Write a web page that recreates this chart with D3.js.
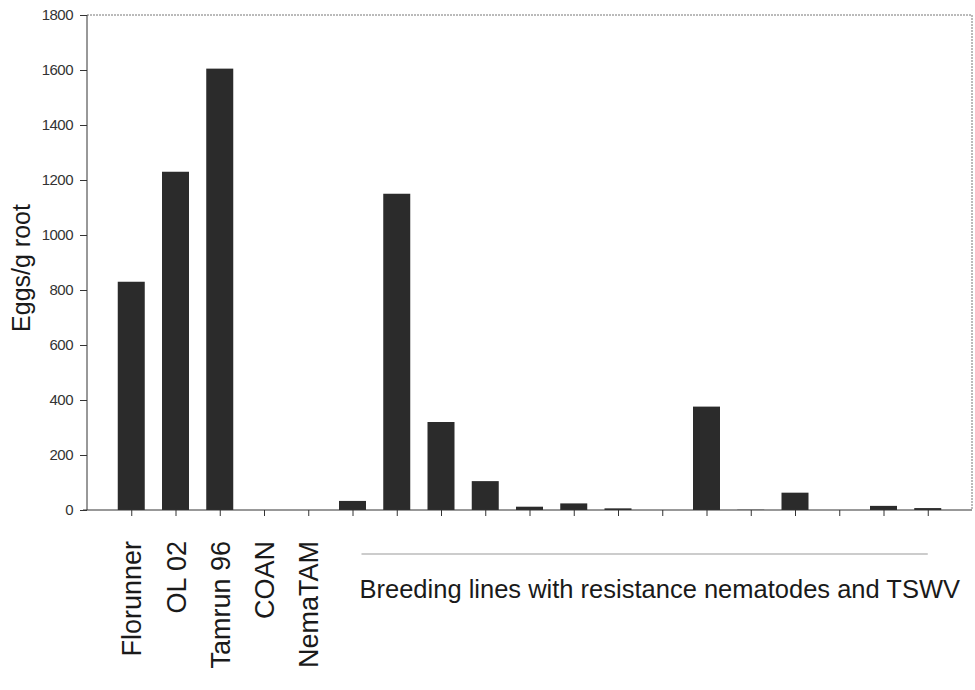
<!DOCTYPE html>
<html>
<head>
<meta charset="utf-8">
<script src="https://cdn.jsdelivr.net/npm/d3@7"></script>
<style>
  body { margin: 0; background: #fff; }
  svg { display: block; font-family: "Liberation Sans", Arial, sans-serif; }
</style>
</head>
<body>
<svg width="975" height="690"></svg>
<script>
let width = 975, height = 690;

// categories: 5 named cultivars then 14 unnamed breeding lines
let categories = ["Florunner", "OL 02", "Tamrun 96", "COAN", "NemaTAM",
  "BL1", "BL2", "BL3", "BL4", "BL5", "BL6", "BL7",
  "BL8", "BL9", "BL10", "BL11", "BL12", "BL13", "BL14"];
let namedLabels = ["Florunner", "OL 02", "Tamrun 96", "COAN", "NemaTAM"];
let eggs = [830, 1230, 1605, 0, 0,
  33, 1150, 320, 105, 12, 24, 6, 0, 376, 1, 63, 0, 15, 7];
let yTicks = [0, 200, 400, 600, 800, 1000, 1200, 1400, 1600, 1800];
let groupLabel = "Breeding lines with resistance nematodes and TSWV";
let yTitle = "Eggs/g root";

let m = { left: 87, right: 972, top: 15, bottom: 510 };

let svg = d3.select("svg");

let x = d3.scalePoint()
  .domain(categories)
  .range([m.left, m.right])
  .padding(1);

let y = d3.scaleLinear()
  .domain([0, 1800])
  .range([m.bottom, m.top]);

let barW = 27;

// frame: top & right dotted
svg.append("path")
  .attr("fill", "none")
  .attr("stroke", "#777")
  .attr("stroke-dasharray", "2,1")
  .attr("d", `M${m.left},${m.top}H${m.right}V${m.bottom}`);

// bars
svg.append("g")
  .selectAll("rect")
  .data(categories)
  .join("rect")
  .attr("x", d => x(d) - barW / 2)
  .attr("width", barW)
  .attr("y", (d, i) => y(eggs[i]))
  .attr("height", (d, i) => y(0) - y(eggs[i]))
  .attr("fill", "#2b2b2b");

// y axis
let yAxis = svg.append("g")
  .attr("transform", `translate(${m.left},0)`)
  .call(d3.axisLeft(y).tickValues(yTicks).tickSize(7).tickPadding(7).tickFormat(d3.format("d")));
yAxis.select(".domain").attr("stroke", "#333").attr("d", `M0,${m.top}V${m.bottom}`);
yAxis.selectAll(".tick line").attr("stroke", "#333");
yAxis.selectAll(".tick text")
  .attr("font-size", 15)
  .attr("fill", "#333")
  .attr("font-family", "'Liberation Sans Narrow', 'Liberation Sans', Arial, sans-serif")
  .attr("letter-spacing", "-0.5");

// x axis
let xAxis = svg.append("g")
  .attr("transform", `translate(0,${m.bottom})`)
  .call(d3.axisBottom(x).tickSize(6).tickFormat(""));
xAxis.select(".domain").attr("stroke", "#333").attr("d", `M${m.left - 4},0H${m.right}`);
xAxis.selectAll(".tick line").attr("stroke", "#333");

// named category labels, rotated
svg.append("g")
  .selectAll("text")
  .data(namedLabels)
  .join("text")
  .attr("transform", d => `translate(${x(d) + 10},541) rotate(-90)`)
  .attr("text-anchor", "end")
  .attr("font-size", 27)
  .attr("fill", "#1a1a1a")
  .text(d => d);

// breeding lines bracket line + label
let bl = categories.slice(5);
svg.append("line")
  .attr("x1", x(bl[0]) + 9).attr("x2", x(bl[bl.length - 1]))
  .attr("y1", 554).attr("y2", 554)
  .attr("stroke", "#999")
  .attr("stroke-width", 1.2);

svg.append("text")
  .attr("x", x(bl[0]) + 7)
  .attr("y", 598)
  .attr("font-size", 25.5)
  .attr("fill", "#1a1a1a")
  .text(groupLabel);

// y title
svg.append("text")
  .attr("transform", `translate(30,268) rotate(-90)`)
  .attr("text-anchor", "middle")
  .attr("font-size", 25)
  .attr("fill", "#1a1a1a")
  .text(yTitle);
</script>
</body>
</html>
